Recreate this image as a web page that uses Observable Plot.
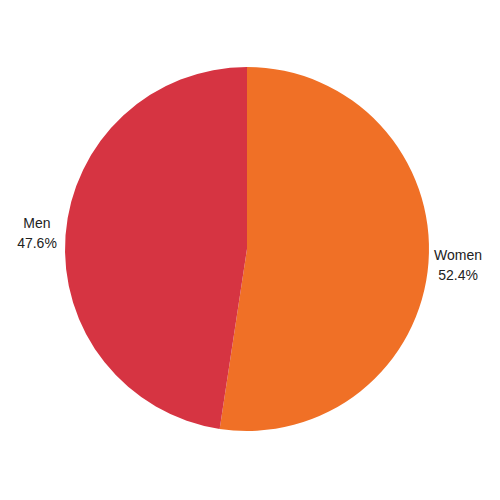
<!DOCTYPE html>
<html>
<head>
<meta charset="utf-8">
<script src="https://cdn.jsdelivr.net/npm/d3@7"></script>
<script src="https://cdn.jsdelivr.net/npm/@observablehq/plot@0.6"></script>
<style>
  html, body { margin: 0; padding: 0; background: #fff; }
  #chart { width: 500px; height: 500px; }
</style>
</head>
<body>
<div id="chart"></div>
<script>
const categories = ["Women", "Men"];
const shares = [52.4, 47.6];
const colors = ["#F07026", "#D63442"];

const data = categories.map((c, i) => ({ category: c, value: shares[i], color: colors[i] }));
const pie = d3.pie().sort(null).value(d => d.value)(data);

const labelR = 1.16;
const labels = pie.map(p => {
  const a = (p.startAngle + p.endAngle) / 2;
  return {
    text: `${p.data.category}\n${p.data.value.toFixed(1)}%`,
    x: labelR * Math.sin(a),
    y: labelR * Math.cos(a) + 0.01
  };
});

function pieMark(index, scales) {
  const cx = scales.x(0), cy = scales.y(0);
  const r = Math.abs(scales.x(1) - scales.x(0));
  const g = d3.create("svg:g").attr("transform", `translate(${cx},${cy})`);
  const arc = d3.arc().innerRadius(0).outerRadius(r);
  g.selectAll("path").data(pie).join("path")
    .attr("d", arc)
    .attr("fill", d => d.data.color);
  return g.node();
}

const chart = Plot.plot({
  width: 500,
  height: 500,
  margin: 0,
  x: { domain: [-1, 1], range: [65, 429], axis: null },
  y: { domain: [-1, 1], range: [431, 67], axis: null },
  style: { fontFamily: "Liberation Sans, Arial, sans-serif", background: "#fff" },
  marks: [
    pieMark,
    Plot.text(labels, {
      x: "x", y: "y", text: "text",
      fontSize: 14, fill: "#222", lineHeight: 1.4, textAnchor: "middle"
    })
  ]
});
document.getElementById("chart").appendChild(chart);
</script>
</body>
</html>
